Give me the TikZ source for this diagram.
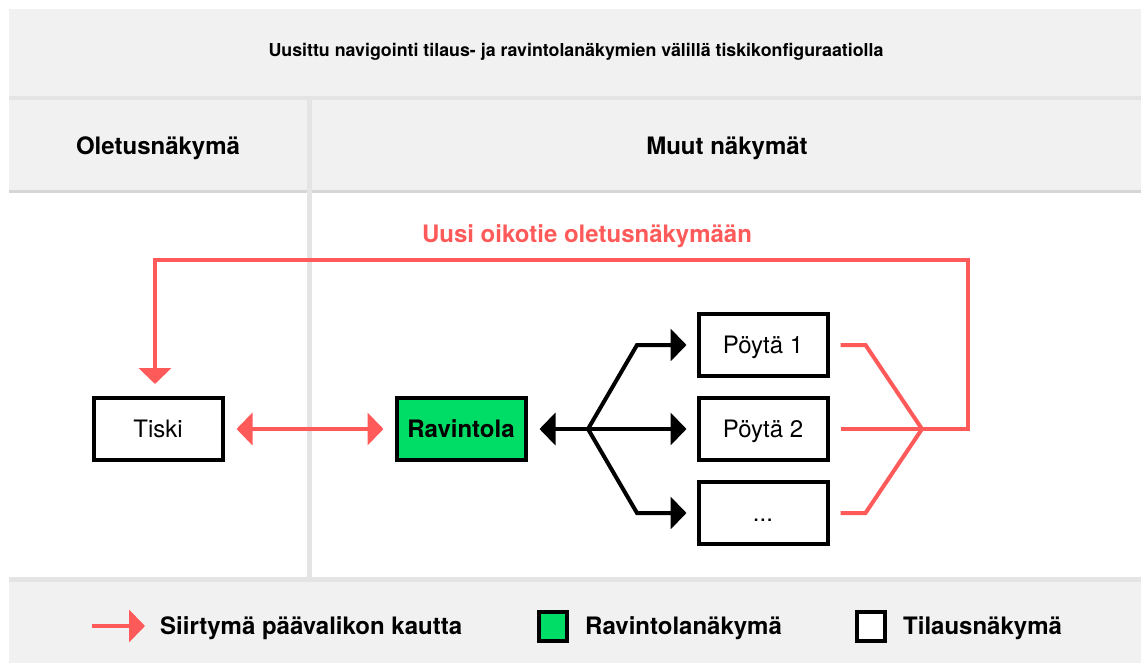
\documentclass[tikz,border=0pt]{standalone}
\usepackage{fontspec}
\setmainfont{TeX Gyre Heros}
\usetikzlibrary{arrows.meta,positioning}

\definecolor{bandgrey}{HTML}{F1F1F1}
\definecolor{rulegrey}{HTML}{E4E4E4}
\definecolor{shadegrey}{HTML}{D6D6D6}
\definecolor{linkred}{HTML}{FF5A5A}
\definecolor{viewgreen}{HTML}{00DD66}

\begin{document}
\begin{tikzpicture}[x=1pt,y=-1pt,
  view/.style={draw=black,line width=4pt,fill=white,minimum width=129pt,minimum height=62pt,
    inner sep=0pt,text height=17pt,text depth=0pt,font=\fontsize{24}{28}\selectfont},
  restview/.style={view,fill=viewgreen,font=\fontsize{24}{28}\selectfont\bfseries},
  heading/.style={inner sep=0pt,text height=17pt,text depth=0pt,font=\fontsize{24}{28}\selectfont\bfseries},
  legendtext/.style={anchor=base west,inner sep=0pt,font=\fontsize{24}{28}\selectfont\bfseries},
  navline/.style={line width=4pt,black},
  navarrow/.style={navline,-{Triangle[length=16pt,width=32pt]}},
  shortline/.style={line width=4pt,linkred},
  shortarrow/.style={shortline,-{Triangle[length=16pt,width=32pt]}},
  bothred/.style={shortline,{Triangle[length=16pt,width=32pt]}-{Triangle[length=16pt,width=32pt]}}]

  \useasboundingbox (0,0) rectangle (1141,663);

  % bands
  \fill[bandgrey] (9,9) rectangle (1141,96);
  \fill[rulegrey] (9,96) rectangle (1141,100);
  \fill[bandgrey] (9,100) rectangle (1141,190);
  \fill[shadegrey] (9,190) rectangle (1141,193);
  \fill[rulegrey] (307,100) rectangle (312,577);
  \fill[rulegrey] (9,577) rectangle (1141,582);
  \fill[bandgrey] (9,582) rectangle (1141,663);

  % titles
  \node[inner sep=0pt,text height=12.6pt,text depth=0pt,font=\fontsize{17.8}{21}\selectfont\bfseries] (title) at (576,50)
    {Uusittu navigointi tilaus- ja ravintolanäkymien välillä tiskikonfiguraatiolla};
  \node[heading] (oletus) at (158,146) {Oletusnäkymä};
  \node[heading] (muut) at (727,146) {Muut näkymät};

  % views
  \node[view] (tiski) at (158,429) {Tiski};
  \node[restview] (ravintola) at (461,429) {Ravintola};
  \node[view] (poyta1) at (763,345) {Pöytä 1};
  \node[view] (poyta2) at (763,429) {Pöytä 2};
  \node[view] (muu) at (763,513) {...};

  % menu links
  \draw[bothred,shorten <=12pt,shorten >=11pt] (tiski.east) -- (ravintola.west);
  \coordinate (fork) at (588,429);
  \draw[navarrow,shorten >=12pt] (fork) -- (ravintola.east);
  \draw[navarrow,shorten >=10pt] (fork) -- ++(49,-84) -- (poyta1.west);
  \draw[navarrow,shorten >=10pt] (fork) -- (poyta2.west);
  \draw[navarrow,shorten >=10pt] (fork) -- ++(49,84) -- (muu.west);

  % shortcut
  \coordinate (join) at (922,429);
  \coordinate (turn) at (968,260);
  \draw[shortline,shorten <=11pt] (poyta1.east) -- ++(36,0) -- (join);
  \draw[shortline,shorten <=11pt] (muu.east) -- ++(36,0) -- (join);
  \draw[shortarrow,shorten <=11pt] (poyta2.east) -- (join) -| (turn)
    -| ([xshift=-3pt,yshift=12pt]tiski.north);
  \node[heading,text=linkred] (oikotie) at (587,234) {Uusi oikotie oletusnäkymään};

  % legend
  \coordinate (legstart) at (92,626);
  \draw[shortarrow] (legstart) -- ++(53,0);
  \node[legendtext] (legsiirtyma) at (160,634) {Siirtymä päävalikon kautta};
  \node[draw=black,line width=4pt,fill=viewgreen,minimum width=28pt,minimum height=29pt,inner sep=0pt]
    (leggreen) at (552.5,626.5) {};
  \node[legendtext] (legravintola) at (585,634) {Ravintolanäkymä};
  \node[draw=black,line width=4pt,fill=white,minimum width=28pt,minimum height=29pt,inner sep=0pt]
    (legwhite) at (871,626.5) {};
  \node[legendtext] (legtilaus) at (903,634) {Tilausnäkymä};
\end{tikzpicture}
\end{document}
